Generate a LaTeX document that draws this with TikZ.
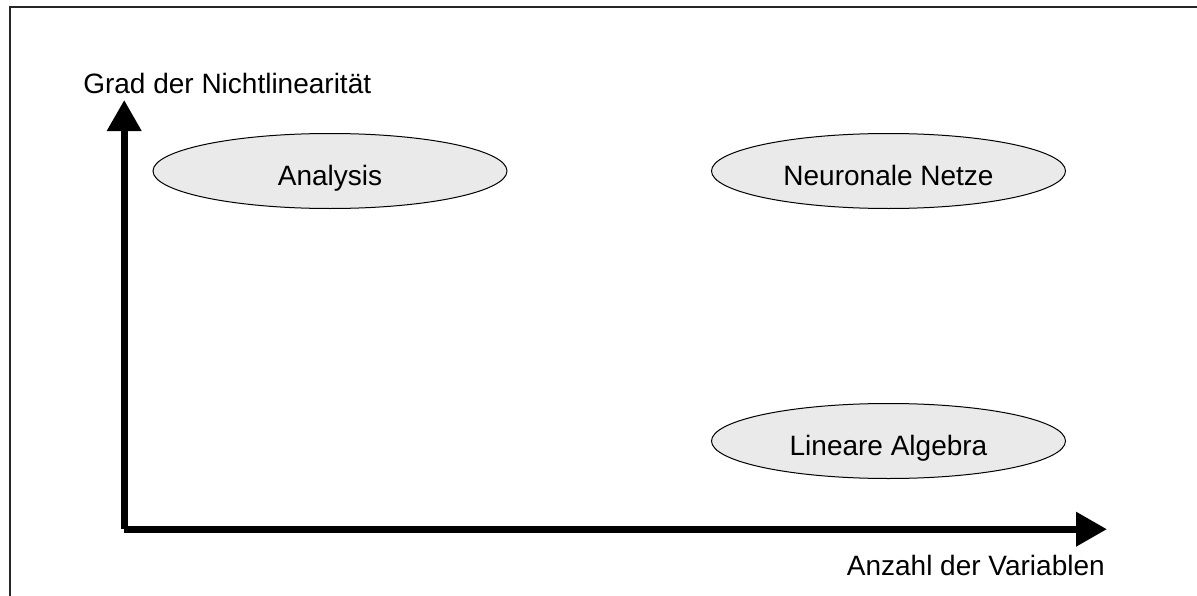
\documentclass[tikz,border=0pt]{standalone}
\usepackage{fontspec}
\setmainfont{Liberation Sans}
\usetikzlibrary{shapes.geometric, arrows.meta}
\definecolor{regionfill}{RGB}{234,234,234}

\begin{document}
\begin{tikzpicture}[
    x=0.75pt, y=-0.75pt,
    every node/.style={font=\fontsize{21}{25}\selectfont},
    region/.style={ellipse, draw=black, line width=0.75pt, fill=regionfill,
        minimum width=265.5pt, minimum height=56.25pt, inner sep=0pt,
        text height=21pt, text depth=0pt},
    axis/.style={line width=5.25pt, -{Triangle[length=23.25pt, width=24.75pt]}},
    axislabel/.style={inner sep=0pt},
    frame/.style={line width=1pt, black!85}
]
    \useasboundingbox (0,0) rectangle (1197,596);
    \draw[frame] (10,596) -- (10,7) -- (1197,7);

    \coordinate (origin) at (124.2,529.2);
    \coordinate (ytip) at (124.2,100);
    \coordinate (xtip) at (1107,529.2);
    \draw[axis] (origin) -- (ytip);
    \draw[axis] (origin) -- (xtip);

    \node[axislabel, anchor=base west] (ylabel) at (83,93) {Grad der Nichtlinearität};
    \node[axislabel, anchor=base east] (xlabel) at (1105,575) {Anzahl der Variablen};

    \node[region] (analysis) at (330,171) {Analysis};
    \node[region] (nn) at (888.5,171) {Neuronale Netze};
    \node[region] (linalg) at (888.5,441) {Lineare Algebra};
\end{tikzpicture}
\end{document}
